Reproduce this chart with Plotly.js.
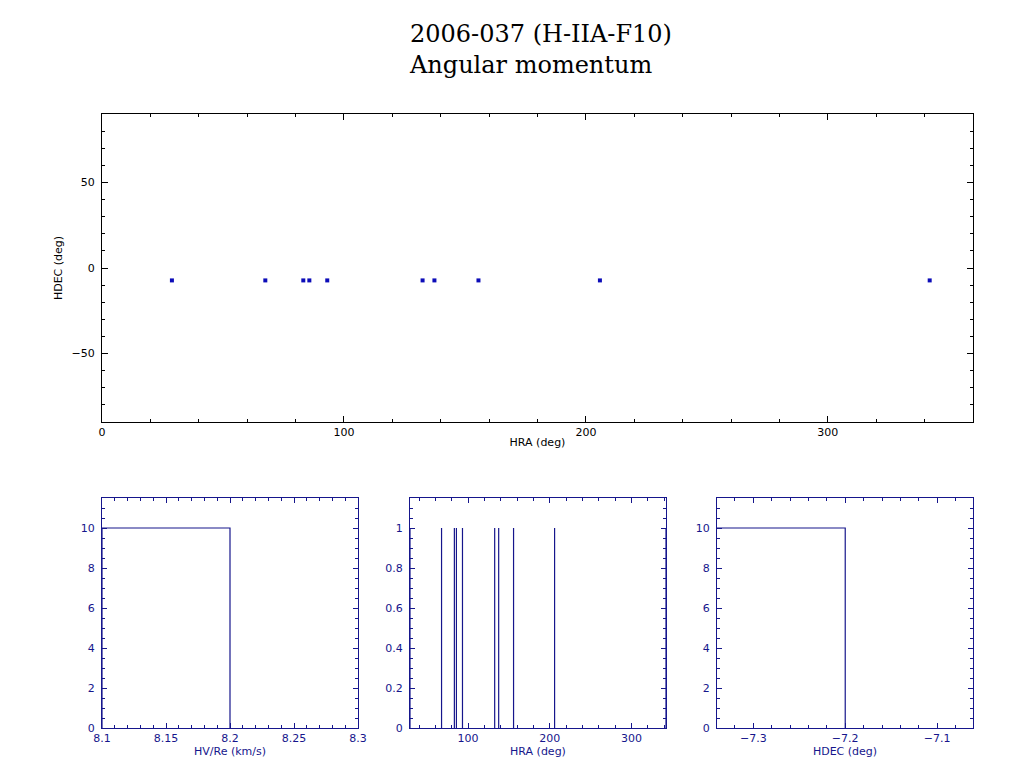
<!DOCTYPE html>
<html>
<head>
<meta charset="utf-8">
<script src="https://cdn.plot.ly/plotly-3.0.1.min.js"></script>
<style>html,body{margin:0;padding:0;background:#fff;}#chart{width:1024px;height:768px;}</style>
</head>
<body>
<div id="chart"></div>
<script>
// ---- data ----
const titleLine1 = "2006-037 (H-IIA-F10)";
const titleLine2 = "Angular momentum";
const hra  = [28.9, 67.5, 83.2, 85.7, 93.1, 132.5, 137.4, 155.6, 205.8, 342.1];
const hdec = [-7.25, -7.25, -7.25, -7.25, -7.25, -7.25, -7.25, -7.25, -7.25, -7.25];
const hvBinEdges = [8.1, 8.2];
const hvCounts = [10];
const hdecBinEdges = [-7.4, -7.2];
const hdecCounts = [10];
const hraSpikeCount = [1, 1, 1, 1, 1, 1, 1, 1, 1, 1];

// ---- build traces ----
function stepTrace(edges, counts, xa, ya, color) {
  const x = [], y = [];
  for (let i = 0; i < counts.length; i++) {
    x.push(edges[i], edges[i], edges[i + 1], edges[i + 1]);
    y.push(0, counts[i], counts[i], 0);
  }
  return {x, y, xaxis: xa, yaxis: ya, mode: 'lines', type: 'scatter',
          line: {color, width: 1.2}, hoverinfo: 'skip', cliponaxis: true};
}
function spikeTrace(vals, heights, xa, ya, color) {
  const x = [], y = [];
  vals.forEach((v, i) => { x.push(v, v, null); y.push(0, heights[i], null); });
  return {x, y, xaxis: xa, yaxis: ya, mode: 'lines', type: 'scatter',
          line: {color, width: 1.2}, hoverinfo: 'skip'};
}

const BLK = '#000000';
const BLU = '#16168c';
const PT = '#0c0cb8';

const traces = [
  {x: hra, y: hdec, mode: 'markers', type: 'scatter', xaxis: 'x', yaxis: 'y',
   marker: {symbol: 'square', size: 4, color: PT, line: {width: 0}}},
  stepTrace(hvBinEdges, hvCounts, 'x2', 'y2', BLU),
  spikeTrace(hra, hraSpikeCount, 'x3', 'y3', BLU),
  stepTrace(hdecBinEdges, hdecCounts, 'x4', 'y4', BLU)
];

const W = 1024, H = 768;
const fx = p => p / W, fy = p => 1 - p / H;
const tickFont = c => ({family: 'DejaVu Sans, sans-serif', size: 11, color: c});

function ax(opts, color, len, mlen) {
  return Object.assign({
    showline: true, linecolor: color, linewidth: 1, mirror: 'allticks',
    ticks: 'inside', ticklen: len, tickwidth: 1, tickcolor: color,
    showgrid: false, zeroline: false, tickfont: tickFont(color),
    fixedrange: true, automargin: false,
    minor: {ticks: 'inside', ticklen: mlen, tickcolor: color, tickwidth: 1, showgrid: false}
  }, opts);
}

const layout = {
  width: W, height: H,
  margin: {l: 0, r: 0, t: 0, b: 0},
  paper_bgcolor: '#fff', plot_bgcolor: '#fff',
  showlegend: false,
  title: {
    text: titleLine1 + '<br>' + titleLine2,
    x: fx(410), xanchor: 'left', xref: 'paper',
    y: fy(42), yanchor: 'top', yref: 'paper',
    font: {family: 'DejaVu Serif, serif', size: 24, color: '#000'}
  },
  xaxis: ax({domain: [fx(102), fx(973)], range: [0, 360], dtick: 100, tick0: 0,
             minor: {ticks: 'inside', ticklen: 3, tickcolor: BLK, dtick: 20},
             anchor: 'y', title: {text: 'HRA (deg)', font: tickFont(BLK), standoff: 0}}, BLK, 6, 3),
  yaxis: ax({domain: [fy(422), fy(114)], range: [-90, 90], dtick: 50, tick0: 0,
             ticklabelstandoff: 4,
             minor: {ticks: 'inside', ticklen: 3, tickcolor: BLK, dtick: 10},
             anchor: 'x', title: {text: 'HDEC (deg)', font: tickFont(BLK), standoff: 6}}, BLK, 6, 3),
  xaxis2: ax({domain: [fx(102), fx(358)], range: [8.1, 8.3], dtick: 0.05, tick0: 8.1,
              minor: {ticks: 'inside', ticklen: 3, tickcolor: BLU, dtick: 0.01},
              anchor: 'y2', title: {text: 'HV/Re (km/s)', font: tickFont(BLU), standoff: 0}}, BLU, 5, 3),
  yaxis2: ax({domain: [fy(728), fy(498)], range: [0, 11.5], dtick: 2, tick0: 0,
              ticklabelstandoff: 4,
              minor: {ticks: 'inside', ticklen: 3, tickcolor: BLU, dtick: 0.5},
              anchor: 'x2'}, BLU, 5, 3),
  xaxis3: ax({domain: [fx(410), fx(666)], range: [28.9, 342.1], dtick: 100, tick0: 0,
              minor: {ticks: 'inside', ticklen: 3, tickcolor: BLU, dtick: 20},
              anchor: 'y3', title: {text: 'HRA (deg)', font: tickFont(BLU), standoff: 0}}, BLU, 5, 3),
  yaxis3: ax({domain: [fy(728), fy(498)], range: [0, 1.15], dtick: 0.2, tick0: 0,
              ticklabelstandoff: 4,
              minor: {ticks: 'inside', ticklen: 3, tickcolor: BLU, dtick: 0.05},
              anchor: 'x3'}, BLU, 5, 3),
  xaxis4: ax({domain: [fx(717), fx(973)], range: [-7.3395, -7.061], dtick: 0.1, tick0: -7.3,
              minor: {ticks: 'inside', ticklen: 3, tickcolor: BLU, dtick: 0.02},
              anchor: 'y4', title: {text: 'HDEC (deg)', font: tickFont(BLU), standoff: 0}}, BLU, 5, 3),
  yaxis4: ax({domain: [fy(728), fy(498)], range: [0, 11.5], dtick: 2, tick0: 0,
              ticklabelstandoff: 4,
              minor: {ticks: 'inside', ticklen: 3, tickcolor: BLU, dtick: 0.5},
              anchor: 'x4'}, BLU, 5, 3)
};

Plotly.newPlot('chart', traces, layout, {staticPlot: true, displayModeBar: false});
</script>
</body>
</html>
